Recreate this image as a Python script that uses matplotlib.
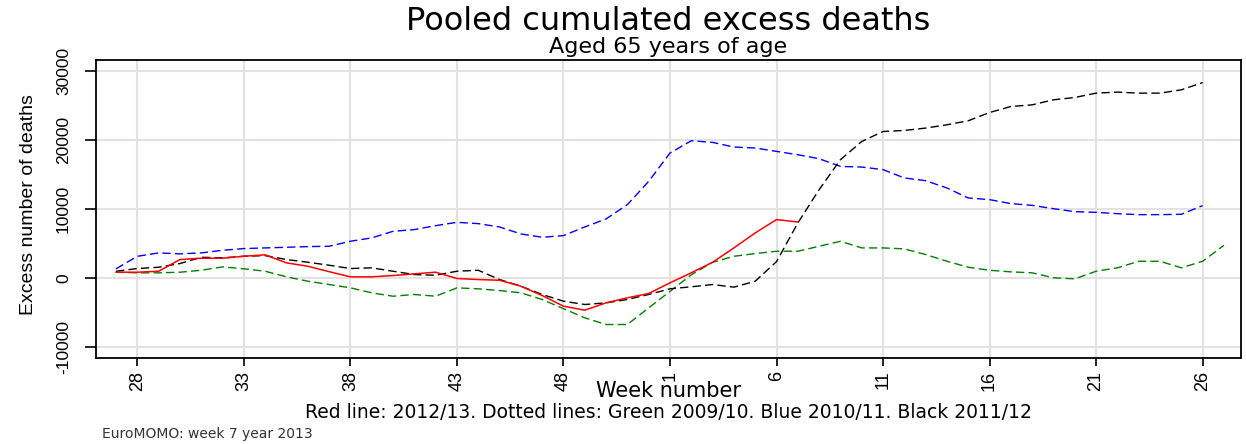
import numpy as np
import matplotlib
matplotlib.use("Agg")
import matplotlib.pyplot as plt

# week labels shown on the x axis (season runs week 27 -> week 26/27)
tick_weeks = [28, 33, 38, 43, 48, 1, 6, 11, 16, 21, 26]
tick_pos = [1, 6, 11, 16, 21, 26, 31, 36, 41, 46, 51]

# cumulated excess deaths (week 27 first)
red_2012 = [870, 870, 1010, 2700, 2890, 2890, 3175, 3380, 2220, 1730, 950,
            200, 200, 390, 630, 870, -40, -190, -290, -1150, -2500, -4040,
            -4620, -3560, -2830, -2210, -670, 780, 2310, 4380, 6550, 8470, 8130]

green_2009 = [870, 780, 780, 870, 1150, 1640, 1360, 1010, 200, -430, -910,
              -1390, -2110, -2600, -2350, -2600, -1390, -1530, -1780, -2110,
              -3070, -4400, -5720, -6690, -6690, -4280, -1900, 500, 2300, 3170,
              3560, 3900, 3900, 4620, 5340, 4380, 4380, 4240, 3420, 2450, 1590,
              1150, 920, 780, 60, -90, 1010, 1500, 2450, 2450, 1500, 2450, 4760]

blue_2010 = [1360, 3170, 3660, 3520, 3660, 4040, 4285, 4380, 4475, 4570, 4620,
             5340, 5830, 6780, 7030, 7600, 8080, 7890, 7410, 6400, 5920, 6160,
             7410, 8570, 10640, 14000, 18090, 19870, 19630, 18960, 18820,
             18330, 17850, 17270, 16160, 16070, 15690, 14490, 14100, 13040,
             11600, 11360, 10780, 10530, 10050, 9620, 9520, 9330, 9190, 9190,
             9240, 10490]

black_2011 = [1010, 1400, 1590, 2120, 3030, 2940, 3175, 3270, 2700, 2310, 1880,
              1400, 1500, 1010, 530, 430, 1010, 1150, -190, -1150, -2350, -3320,
              -3800, -3560, -3070, -2350, -1530, -1240, -910, -1290, -430, 2400,
              7990, 12800, 17130, 19770, 21210, 21360, 21700, 22180, 22760,
              23950, 24820, 25060, 25790, 26120, 26750, 26900, 26750, 26750,
              27230, 28280]

narrow = ['Liberation Sans', 'DejaVu Sans']
wide = ['DejaVu Sans']

fig = plt.figure(figsize=(12.46, 4.44), dpi=100)
ax = fig.add_axes([96/1246, 1-358/444, (1241-96)/1246, (358-60)/444])

dash = (0, (6, 3))
ax.plot(np.arange(len(green_2009)), green_2009, color='#008000', lw=1.0, ls=dash)
ax.plot(np.arange(len(blue_2010)), blue_2010, color='#0000ff', lw=1.0, ls=dash)
ax.plot(np.arange(len(black_2011)), black_2011, color='black', lw=1.0, ls=dash)
ax.plot(np.arange(len(red_2012)), red_2012, color='#ff0000', lw=1.1)

ax.set_xlim(-0.94, 52.8)
ax.set_ylim(-11530, 31540)
ax.set_xticks(tick_pos)
ax.set_xticklabels([str(w) for w in tick_weeks], rotation=90, family=narrow, fontsize=13)
yt = [-10000, 0, 10000, 20000, 30000]
ax.set_yticks(yt)
ax.set_yticklabels([str(v) for v in yt], rotation=90, va='center', family=narrow, fontsize=12.5)
ax.tick_params(axis='x', length=6, width=1.2, pad=3)
ax.tick_params(axis='y', length=8, width=1.2, pad=10)
ax.grid(True, color='#e6e1e1', lw=1.5)
ax.set_axisbelow(True)
for s in ax.spines.values():
    s.set_linewidth(1.3)
    s.set_color('black')

fig.text(0.5365, 1-21/444, 'Pooled cumulated excess deaths', ha='center', va='center', family=wide, fontsize=23)
fig.text(0.5365, 1-47/444, 'Aged 65 years of age', ha='center', va='center', family=wide, fontsize=16)
fig.text(29/1246, 1-205/444, 'Excess number of deaths', rotation=90, ha='center', va='center', family=narrow, fontsize=14)
fig.text(0.5365, 1-391/444, 'Week number', ha='center', va='center', family=wide, fontsize=15)
fig.text(0.5365, 1-412/444, 'Red line: 2012/13. Dotted lines: Green 2009/10. Blue 2010/11. Black 2011/12',
         ha='center', va='center', family=wide, fontsize=13.5)
fig.text(102/1246, 1-434/444, 'EuroMOMO: week 7 year 2013', ha='left', va='center', family=wide,
         fontsize=10, color='#333333')

plt.savefig('out.png', dpi=100)
